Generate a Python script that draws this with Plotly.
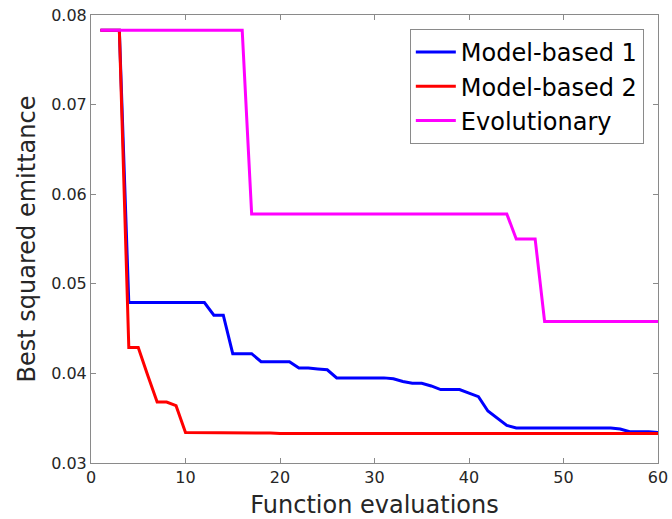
import plotly.graph_objects as go

evals = list(range(1, 61))

model_based_1 = (
    [0.0783, 0.0783, 0.0783]
    + [0.0479] * 9                      # 4-12
    + [0.0465, 0.0465]                  # 13-14
    + [0.0422, 0.0422, 0.0422]          # 15-17
    + [0.0413, 0.0413, 0.0413, 0.0413]  # 18-21
    + [0.0406, 0.0406, 0.0405, 0.0404]  # 22-25
    + [0.0395] * 6                      # 26-31
    + [0.0394, 0.0391, 0.0389, 0.0389, 0.0386, 0.0382, 0.0382, 0.0382, 0.0378, 0.0374]  # 32-41
    + [0.0358, 0.0350, 0.0342]          # 42-44
    + [0.0339] * 11                     # 45-55
    + [0.0338, 0.0335, 0.0335, 0.0335, 0.0334]  # 56-60
)

model_based_2 = (
    [0.0783, 0.0783, 0.0783]
    + [0.0429, 0.0429, 0.0398, 0.0368, 0.0368, 0.0364]  # 4-9
    + [0.0334, 0.0334, 0.0334, 0.0334, 0.0334, 0.03335, 0.03335, 0.03335, 0.03335, 0.03335]  # 10-19
    + [0.0333] * 41                     # 20-60
)

evolutionary = (
    [0.0783] * 16                       # 1-16
    + [0.0578] * 28                     # 17-44
    + [0.0550] * 3                      # 45-47
    + [0.0458] * 13                     # 48-60
)

series_names = ["Model-based 1", "Model-based 2", "Evolutionary"]
series_colors = ["#0000ff", "#ff0000", "#ff00ff"]
series_values = [model_based_1, model_based_2, evolutionary]

x_ticks = [0, 10, 20, 30, 40, 50, 60]
y_ticks = [0.03, 0.04, 0.05, 0.06, 0.07, 0.08]
y_tick_labels = ["0.03", "0.04", "0.05", "0.06", "0.07", "0.08"]

FONT = "DejaVu Sans"

fig = go.Figure()
for name, color, vals in zip(series_names, series_colors, series_values):
    fig.add_trace(go.Scatter(
        x=evals, y=vals, mode="lines", name=name,
        line=dict(color=color, width=3),
    ))

axis_common = dict(
    showline=True, linecolor="#8a8a8a", linewidth=1, mirror="allticks",
    ticks="inside", ticklen=5, tickcolor="#8a8a8a", tickwidth=1,
    showgrid=False, zeroline=False, automargin=False,
    tickfont=dict(family=FONT, size=16, color="#262626"),
    title_font=dict(family=FONT, size=24, color="#262626"),
)

fig.update_layout(
    width=672, height=519,
    margin=dict(l=91, r=14, t=15, b=56),
    paper_bgcolor="white", plot_bgcolor="white",
    font=dict(family=FONT),
    xaxis=dict(range=[0, 60], tickvals=x_ticks, title=dict(text="Function evaluations", standoff=10), **axis_common),
    yaxis=dict(range=[0.03, 0.08], tickvals=y_ticks, ticktext=y_tick_labels,
               title=dict(text="Best squared emittance", standoff=8), **axis_common),
    legend=dict(
        x=0.975, y=0.969, xanchor="right", yanchor="top",
        bgcolor="white", bordercolor="#8a8a8a", borderwidth=1,
        font=dict(family=FONT, size=24, color="#000000"),
        tracegroupgap=0, itemwidth=40,
    ),
    showlegend=True,
)

fig.write_html("out.html")
